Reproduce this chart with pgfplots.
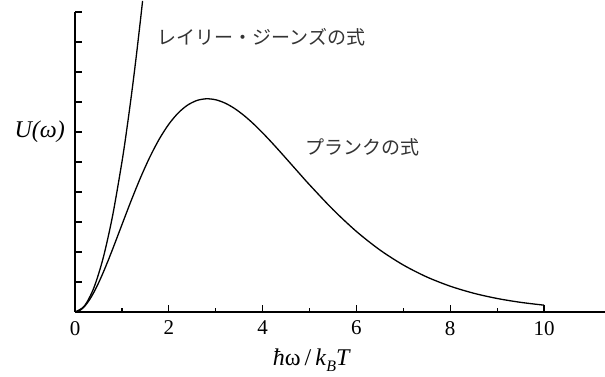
\documentclass[border=0pt]{standalone}
\usepackage{fontspec}
\setmainfont{Liberation Serif}
\newfontfamily\cjk{Noto Sans CJK JP}
\newfontfamily\tnr{Liberation Serif}
\usepackage{pgfplots}
\pgfplotsset{compat=1.18}
\begin{document}
\begin{tikzpicture}
\begin{axis}[
  scale only axis,
  width=265pt, height=150pt,
  xmin=0, xmax=11.3, ymin=0, ymax=2,
  axis lines=left,
  axis line style={-, line width=0.6pt},
  tick align=inside,
  tick style={black, line width=0.6pt},
  major tick length=3.5pt,
  minor tick length=2pt,
  xtick={0,2,4,6,8,10},
  minor xtick={1,3,5,7,9},
  ytick={0,0.2,0.4,0.6,0.8,1.0,1.2,1.4,1.6,1.8,2.0},
  yticklabels={},
  /pgf/number format/assume math mode=true,
  ticklabel style={font=\tnr\fontsize{10.5}{12}\selectfont},
  xticklabel style={yshift=-1pt},
  clip=false,
]
\addplot[black, line width=0.65pt, smooth] coordinates {
(0,0) (0.1,0.00951) (0.2,0.03613) (0.3,0.07717) (0.4,0.13013) (0.5,0.19269)
(0.6,0.26274) (0.7,0.33835) (0.8,0.41777) (0.9,0.49945) (1.0,0.58198)
(1.2,0.74479) (1.4,0.89814) (1.6,1.03617) (1.8,1.15493) (2.0,1.25213)
(2.2,1.32685) (2.4,1.37920) (2.6,1.41018) (2.8,1.42133) (3.0,1.41469)
(3.2,1.39246) (3.4,1.35699) (3.6,1.31063) (3.8,1.25566) (4.0,1.19407)
(4.2,1.12791) (4.4,1.05883) (4.6,0.98834) (4.8,0.91770) (5.0,0.84797)
(5.5,0.68272) (6.0,0.53674) (6.5,0.41350) (7.0,0.31306) (7.5,0.23346)
(8.0,0.17181) (8.5,0.12498) (9.0,0.08998) (9.5,0.06418) (10.0,0.04540)
};
\addplot[black, line width=0.65pt] coordinates {(10.0,0.04540) (10.0,0)};
\addplot[black, line width=0.65pt, smooth] coordinates {
(0,0) (0.2,0.04) (0.4,0.16) (0.6,0.36) (0.8,0.64) (1.0,1.0)
(1.1,1.21) (1.2,1.44) (1.3,1.69) (1.4,1.96) (1.44,2.0736)
};
\node[anchor=west, inner sep=0pt, text=black!80, font=\cjk\fontsize{9.5}{11}\selectfont] at (axis cs:1.75,1.83) {レイリー・ジーンズの式};
\node[anchor=west, inner sep=0pt, text=black!80, font=\cjk\fontsize{9.5}{11}\selectfont] at (axis cs:4.9,1.10) {プランクの式};
\node[anchor=east, inner sep=0pt, font=\tnr\fontsize{12}{14}\selectfont] at (axis cs:-0.21,1.2) {\textit{U(ω)}};
\node[anchor=center, inner sep=0pt, font=\tnr\fontsize{12}{14}\selectfont] at (axis cs:5.05,-0.32) {\textit{ħ}ω\,/\,\textit{k}\raisebox{-0.5ex}{\fontsize{8}{9}\selectfont\textit{B}}\textit{T}};
\coordinate (bl) at (axis cs:-1.6,-0.427);
\coordinate (tr) at (axis cs:11.3,2.08);
\end{axis}
\pgfresetboundingbox
\path (bl) rectangle (tr);
\end{tikzpicture}
\end{document}
